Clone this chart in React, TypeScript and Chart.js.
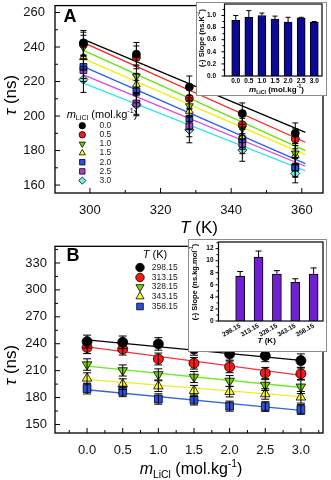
import React, { useEffect, useRef } from "react";
import { Chart, registerables } from "chart.js";
import { drawPoint } from "chart.js/helpers";

Chart.register(...registerables);

const FF = "'Liberation Sans', Arial, Helvetica, sans-serif";
const f = (size: number, opt = "") => `${opt} ${size}px ${FF}`.trim();

// ---------------- data ----------------
const tempsK = [298.15, 313.15, 328.15, 343.15, 358.15];
const tempLabels = ["298.15", "313.15", "328.15", "343.15", "358.15"];
const molalities = [0.0, 0.5, 1.0, 1.5, 2.0, 2.5, 3.0];
const molalityLabels = ["0.0", "0.5", "1.0", "1.5", "2.0", "2.5", "3.0"];

// tau (ns) at each temperature for m = 0.0 ... 3.0 mol/kg
const tau298 = [242.4, 241.6, 239.8, 234.0, 228.5, 226.6, 221.2];
const tau313 = [235.8, 234.0, 223.0, 218.2, 214.2, 207.3, 206.6];
const tau328 = [216.8, 210.2, 205.8, 202.9, 198.5, 194.0, 192.0];
const tau343 = [201.4, 194.9, 192.7, 187.6, 186.5, 184.0, 180.3];
const tau358 = [190.0, 186.8, 178.4, 177.3, 170.4, 170.0, 166.7];

const tauErr298 = [7.2, 7.0, 7.0, 6.8, 6.8, 6.6, 7.5];
const tauErr313 = [6.8, 6.6, 6.6, 6.5, 6.5, 6.3, 6.4];
const tauErr328 = [6.4, 6.2, 6.2, 6.2, 6.0, 6.0, 7.5];
const tauErr343 = [6.2, 6.0, 6.0, 6.0, 5.8, 5.8, 6.5];
const tauErr358 = [6.0, 5.8, 5.8, 5.6, 5.6, 5.4, 5.4];

// linear fits, panel A (vs T), one per molality
const fitA_T = [298.15, 361.0];
const fitA_start = [244.4, 242.5, 238.0, 233.3, 228.6, 223.8, 219.1];
const fitA_end = [190.5, 184.8, 180.0, 177.6, 172.4, 170.9, 168.2];

// linear fits, panel B (vs m), one per temperature
const fitB_m = [0.0, 3.0];
const fitB_start = [244.2, 236.5, 215.0, 200.3, 188.7];
const fitB_end = [221.5, 204.7, 191.2, 181.0, 165.7];

// inset slopes
const slopeVsM = [0.92, 0.97, 1.0, 0.94, 0.89, 0.96, 0.89];
const slopeVsMErr = [0.08, 0.11, 0.04, 0.05, 0.08, 0.01, 0.01];
const slopeVsT = [7.4, 10.6, 7.8, 6.4, 7.8];
const slopeVsTErr = [0.8, 1.0, 0.55, 0.6, 1.0];

// axis ticks
const axA_xMajor = [300, 320, 340, 360];
const axA_xMinor = [310, 330, 350];
const axA_yMajor = [160, 180, 200, 220, 240, 260];
const axA_yMinor = [170, 190, 210, 230, 250];
const axB_xMajor = [0, 0.5, 1.0, 1.5, 2.0, 2.5, 3.0];
const axB_xMinor = [-0.25, 0.25, 0.75, 1.25, 1.75, 2.25, 2.75, 3.25];
const axB_yMajor = [150, 180, 210, 240, 270, 300, 330];
const axB_yMinor = [165, 195, 225, 255, 285, 315, 345];
const inA_yMajor = [0, 0.2, 0.4, 0.6, 0.8, 1.0];
const inA_yMinor = [0.1, 0.3, 0.5, 0.7, 0.9, 1.1];
const inB_yMajor = [0, 2, 4, 6, 8, 10, 12];
const inB_yMinor = [1, 3, 5, 7, 9, 11, 13];

const tauByT = [tau298, tau313, tau328, tau343, tau358];
const errByT = [tauErr298, tauErr313, tauErr328, tauErr343, tauErr358];

// ---------------- styles ----------------
const styleA = [
  { fill: "#000000", line: "#000000", shape: "circle", rot: 0, r: 4 },
  { fill: "#ff1414", line: "#ff2020", shape: "circle", rot: 0, r: 4 },
  { fill: "#7ad400", line: "#66e600", shape: "triangle", rot: 180, r: 4.5 },
  { fill: "#ffff30", line: "#f2f000", shape: "triangle", rot: 0, r: 4.5 },
  { fill: "#2a50e8", line: "#2860f0", shape: "rect", rot: 0, r: 4.8 },
  { fill: "#b040d8", line: "#e040e0", shape: "rect", rot: 0, r: 4.8 },
  { fill: "#70f4e8", line: "#30e6f0", shape: "rectRot", rot: 0, r: 4.5 },
];
const styleB = [
  { fill: "#000000", line: "#000000", shape: "circle", rot: 0, r: 5 },
  { fill: "#ff1414", line: "#ff3040", shape: "circle", rot: 0, r: 5 },
  { fill: "#7ad400", line: "#66ee22", shape: "triangle", rot: 180, r: 5.5 },
  { fill: "#ffff30", line: "#eeee22", shape: "triangle", rot: 0, r: 5.5 },
  { fill: "#2a50e8", line: "#3366dd", shape: "rect", rot: 0, r: 5.5 },
];

// ---------------- helpers ----------------
type Seg = { t: string; f: string; dy?: number };
type TextItem = { x: number; y: number; segs: Seg[]; align?: "left" | "center" | "right"; rot?: number; color?: string };
type MarkItem = { x: number; y: number; shape: string; rot: number; r: number; fill: string };

function mSegs(size: number, bold = false): Seg[] {
  const b = bold ? "bold " : "";
  const small = Math.round(size * 0.65 * 10) / 10;
  return [
    { t: "m", f: f(size, b + "italic") },
    { t: "LiCl", f: f(small, b), dy: size * 0.3 },
    { t: " (mol.kg", f: f(size, b) },
    { t: "-1", f: f(small, b), dy: -size * 0.38 },
    { t: ")", f: f(size, b) },
  ];
}

function drawRich(ctx: CanvasRenderingContext2D, it: TextItem) {
  ctx.save();
  ctx.translate(it.x, it.y);
  if (it.rot) ctx.rotate(it.rot);
  ctx.textBaseline = "middle";
  ctx.textAlign = "left";
  let w = 0;
  for (const s of it.segs) {
    ctx.font = s.f;
    w += ctx.measureText(s.t).width;
  }
  let cx = it.align === "left" ? 0 : it.align === "right" ? -w : -w / 2;
  ctx.fillStyle = it.color || "#000";
  for (const s of it.segs) {
    ctx.font = s.f;
    ctx.fillText(s.t, cx, s.dy || 0);
    cx += ctx.measureText(s.t).width;
  }
  ctx.restore();
}

type Decor = {
  xMajor: number[]; xMinor: number[]; yMajor: number[]; yMinor: number[];
  majLen: number; minLen: number; inward: boolean; frameWidth: number;
  texts: TextItem[]; marks: MarkItem[];
};

function decorPlugin(d: Decor) {
  return {
    id: "decor",
    afterDraw(chart: any) {
      const { ctx, chartArea: a, scales } = chart;
      const xs = scales.x, ys = scales.y;
      ctx.save();
      ctx.strokeStyle = "#000";
      ctx.lineWidth = d.frameWidth;
      ctx.strokeRect(a.left, a.top, a.right - a.left, a.bottom - a.top);
      ctx.lineWidth = 1;
      const s = d.inward ? 1 : -1;
      ctx.beginPath();
      const xt = (v: number, len: number) => {
        const p = xs.getPixelForValue(v);
        ctx.moveTo(p, a.bottom);
        ctx.lineTo(p, a.bottom - s * len);
      };
      const yt = (v: number, len: number) => {
        const p = ys.getPixelForValue(v);
        ctx.moveTo(a.left, p);
        ctx.lineTo(a.left + s * len, p);
      };
      d.xMajor.forEach((v) => xt(v, d.majLen));
      d.xMinor.forEach((v) => xt(v, d.minLen));
      d.yMajor.forEach((v) => yt(v, d.majLen));
      d.yMinor.forEach((v) => yt(v, d.minLen));
      ctx.stroke();
      for (const m of d.marks) {
        ctx.fillStyle = m.fill;
        ctx.strokeStyle = "#000";
        ctx.lineWidth = 0.8;
        drawPoint(ctx, { pointStyle: m.shape as any, rotation: m.rot, radius: m.r, borderWidth: 0.8 } as any, m.x, m.y);
      }
      for (const t of d.texts) drawRich(ctx, t);
      ctx.restore();
    },
  };
}

const errorBarPlugin = {
  id: "errbars",
  afterDatasetsDraw(chart: any) {
    const ctx = chart.ctx;
    chart.data.datasets.forEach((ds: any, i: number) => {
      if (!ds.errs) return;
      const meta = chart.getDatasetMeta(i);
      const ys = chart.scales[meta.yAxisID];
      ctx.save();
      ctx.strokeStyle = ds.errColor || "#000";
      ctx.lineWidth = ds.errWidth || 1;
      meta.data.forEach((el: any, j: number) => {
        const v = ds.data[j].y;
        const e = ds.errs[j];
        const x = el.x;
        const top = ys.getPixelForValue(v + e);
        const bot = ds.errUpOnly ? ys.getPixelForValue(v) : ys.getPixelForValue(v - e);
        const cw = ds.errCap;
        ctx.beginPath();
        ctx.moveTo(x, top);
        ctx.lineTo(x, bot);
        ctx.moveTo(x - cw, top);
        ctx.lineTo(x + cw, top);
        if (!ds.errUpOnly) {
          ctx.moveTo(x - cw, bot);
          ctx.lineTo(x + cw, bot);
        }
        ctx.stroke();
      });
      ctx.restore();
    });
  },
};

const fixX = (h: number) => (s: any) => {
  s.height = h;
  s.paddingLeft = 0; s.paddingRight = 0; s.paddingTop = 0; s.paddingBottom = 0;
};
const fixY = (w: number) => (s: any) => {
  s.width = w;
  s.paddingLeft = 0; s.paddingRight = 0; s.paddingTop = 0; s.paddingBottom = 0;
};
const setTicks = (vals: number[]) => (s: any) => {
  s.ticks = vals.map((v) => ({ value: v }));
};

const noGrid = { display: false, drawTicks: false };
const noBorder = { display: false };
const baseOpts = {
  responsive: false,
  animation: false as const,
  plugins: { legend: { display: false }, tooltip: { enabled: false } },
};

// ---------------- chart configs ----------------
function makeMainA(): any {
  const points = molalities.map((_, i) => ({
    data: tempsK.map((T, j) => ({ x: T, y: tauByT[j][i] })),
    errs: tempsK.map((_, j) => errByT[j][i]),
    errCap: 3,
    showLine: false,
    pointStyle: styleA[i].shape,
    pointRotation: styleA[i].rot,
    pointRadius: styleA[i].r,
    pointBackgroundColor: styleA[i].fill,
    pointBorderColor: "#000",
    pointBorderWidth: 0.8,
  }));
  const lines = molalities.map((_, i) => ({
    data: [
      { x: fitA_T[0], y: fitA_start[i] },
      { x: fitA_T[1], y: fitA_end[i] },
    ],
    showLine: true,
    pointRadius: 0,
    borderColor: styleA[i].line,
    borderWidth: 1.3,
  }));
  const legendRowsY = [125.7, 134.8, 143.9, 153, 162.2, 171.4, 180.6];
  return {
    type: "scatter",
    data: { datasets: [...points, ...lines] },
    options: {
      ...baseOpts,
      layout: { padding: { left: 0, top: 3, right: 8, bottom: 0 } },
      scales: {
        x: {
          type: "linear", min: 290.1, max: 366,
          grid: noGrid, border: noBorder,
          afterBuildTicks: setTicks(axA_xMajor),
          afterFit: fixX(47),
          ticks: { font: { size: 13, family: FF }, color: "#111", padding: 10, maxRotation: 0, autoSkip: false },
        },
        y: {
          type: "linear", min: 155.4, max: 264,
          grid: noGrid, border: noBorder,
          afterBuildTicks: setTicks(axA_yMajor),
          afterFit: fixY(55),
          ticks: { font: { size: 13, family: FF }, color: "#111", padding: 10, autoSkip: false },
        },
      },
    },
    plugins: [
      errorBarPlugin,
      decorPlugin({
        xMajor: axA_xMajor, xMinor: axA_xMinor, yMajor: axA_yMajor, yMinor: axA_yMinor,
        majLen: 5, minLen: 3, inward: true, frameWidth: 1.3,
        texts: [
          { x: 70, y: 17, segs: [{ t: "A", f: f(18, "bold") }] },
          { x: 11, y: 95, rot: -Math.PI / 2, segs: [{ t: "τ", f: f(17, "italic") }, { t: " (ns)", f: f(17) }] },
          { x: 199, y: 228, segs: [{ t: "T", f: f(17, "italic") }, { t: " (K)", f: f(17) }] },
          { x: 66.7, y: 115, align: "left", segs: mSegs(11) },
          ...molalityLabels.map((l, i) => ({
            x: 99.5, y: legendRowsY[i], align: "left" as const, color: "#222",
            segs: [{ t: l, f: f(8.5) }],
          })),
        ],
        marks: styleA.map((s, i) => ({ x: 82.3, y: legendRowsY[i], shape: s.shape, rot: s.rot, r: s.r * 0.8, fill: s.fill })),
      }),
    ],
  };
}

function makeMainB(): any {
  const points = tempsK.map((_, j) => ({
    data: molalities.map((m, i) => ({ x: m, y: tauByT[j][i] })),
    errs: errByT[j],
    errCap: 4,
    showLine: false,
    pointStyle: styleB[j].shape,
    pointRotation: styleB[j].rot,
    pointRadius: styleB[j].r,
    pointBackgroundColor: styleB[j].fill,
    pointBorderColor: "#000",
    pointBorderWidth: 0.8,
  }));
  const lines = tempsK.map((_, j) => ({
    data: [
      { x: fitB_m[0], y: fitB_start[j] },
      { x: fitB_m[1], y: fitB_end[j] },
    ],
    showLine: true,
    pointRadius: 0,
    borderColor: styleB[j].line,
    borderWidth: 1.3,
  }));
  const legendRowsY = [27.5, 37.5, 47, 56.5, 66.5];
  return {
    type: "scatter",
    data: { datasets: [...points, ...lines] },
    options: {
      ...baseOpts,
      layout: { padding: { left: 0, top: 3, right: 8, bottom: 0 } },
      scales: {
        x: {
          type: "linear", min: -0.45, max: 3.31,
          grid: noGrid, border: noBorder,
          afterBuildTicks: setTicks(axB_xMajor),
          afterFit: fixX(47),
          ticks: {
            font: { size: 13, family: FF }, color: "#111", padding: 10, maxRotation: 0, autoSkip: false,
            callback: (v: any) => Number(v).toFixed(1),
          },
        },
        y: {
          type: "linear", min: 140.5, max: 348.6,
          grid: noGrid, border: noBorder,
          afterBuildTicks: setTicks(axB_yMajor),
          afterFit: fixY(55),
          ticks: { font: { size: 13, family: FF }, color: "#111", padding: 8, autoSkip: false },
        },
      },
    },
    plugins: [
      errorBarPlugin,
      decorPlugin({
        xMajor: axB_xMajor, xMinor: axB_xMinor, yMajor: axB_yMajor, yMinor: axB_yMinor,
        majLen: 5, minLen: 3, inward: true, frameWidth: 1.3,
        texts: [
          { x: 73, y: 16, segs: [{ t: "B", f: f(18, "bold") }] },
          { x: 11, y: 125, rot: -Math.PI / 2, segs: [{ t: "τ", f: f(17, "italic") }, { t: " (ns)", f: f(17) }] },
          { x: 191, y: 230, segs: mSegs(16) },
          { x: 155, y: 15, segs: [{ t: "T", f: f(11, "italic") }, { t: " (K)", f: f(11) }] },
          ...tempLabels.map((l, i) => ({
            x: 151.7, y: legendRowsY[i], align: "left" as const, color: "#222",
            segs: [{ t: l, f: f(8.5) }],
          })),
        ],
        marks: styleB.map((s, i) => ({ x: 140, y: legendRowsY[i], shape: s.shape, rot: s.rot, r: s.r * 0.85, fill: s.fill })),
      }),
    ],
  };
}

function makeInsetA(): any {
  return {
    type: "bar",
    data: {
      datasets: [
        {
          data: slopeVsM.map((v, i) => ({ x: i, y: v })),
          backgroundColor: "#0a0a96",
          borderColor: "#000",
          borderWidth: 1,
          barThickness: 8,
          errs: slopeVsMErr,
          errUpOnly: true,
          errCap: 2.5,
        },
      ],
    },
    options: {
      ...baseOpts,
      layout: { padding: { left: 0, top: 1, right: 4, bottom: 0 } },
      scales: {
        x: {
          type: "linear", offset: false, min: -0.857, max: 6.59,
          grid: noGrid, border: noBorder,
          afterBuildTicks: setTicks(molalities.map((_, i) => i)),
          afterFit: fixX(19),
          ticks: {
            font: { size: 6.5, weight: "bold", family: FF }, color: "#000", padding: 1, maxRotation: 0, autoSkip: false,
            callback: (v: any) => molalityLabels[v],
          },
        },
        y: {
          type: "linear", min: 0, max: 1.19,
          grid: noGrid, border: noBorder,
          afterBuildTicks: setTicks(inA_yMajor),
          afterFit: fixY(27.5),
          ticks: {
            font: { size: 6.5, weight: "bold", family: FF }, color: "#000", padding: 8.5, autoSkip: false,
            callback: (v: any) => Number(v).toFixed(1),
          },
        },
      },
    },
    plugins: [
      errorBarPlugin,
      decorPlugin({
        xMajor: [], xMinor: [], yMajor: inA_yMajor, yMinor: inA_yMinor,
        majLen: 3, minLen: 2, inward: false, frameWidth: 1.2,
        texts: [
          {
            x: 5, y: 35, rot: -Math.PI / 2,
            segs: [
              { t: "(-) Slope (ns.K", f: f(7.5, "bold") },
              { t: "-1", f: f(5, "bold"), dy: -3 },
              { t: ")", f: f(7.5, "bold") },
            ],
          },
          { x: 79.5, y: 87, segs: mSegs(8, true) },
        ],
        marks: [],
      }),
    ],
  };
}

function makeInsetB(): any {
  return {
    type: "bar",
    data: {
      datasets: [
        {
          data: slopeVsT.map((v, i) => ({ x: i, y: v })),
          backgroundColor: "#7020d0",
          borderColor: "#000",
          borderWidth: 1,
          barThickness: 9,
          errs: slopeVsTErr,
          errUpOnly: true,
          errCap: 3,
        },
      ],
    },
    options: {
      ...baseOpts,
      layout: { padding: { left: 0, top: 2, right: 3, bottom: 0 } },
      scales: {
        x: {
          type: "linear", offset: false, min: -1.18, max: 4.51,
          grid: noGrid, border: noBorder,
          afterBuildTicks: setTicks(tempsK.map((_, i) => i)),
          afterFit: fixX(30),
          ticks: {
            font: { size: 6.5, weight: "bold", family: FF }, color: "#000", padding: 1,
            minRotation: 30, maxRotation: 30, autoSkip: false,
            callback: (v: any) => tempLabels[v],
          },
        },
        y: {
          type: "linear", min: 0, max: 13.1,
          grid: noGrid, border: noBorder,
          afterBuildTicks: setTicks(inB_yMajor),
          afterFit: fixY(29.5),
          ticks: { font: { size: 6.5, weight: "bold", family: FF }, color: "#000", padding: 5, autoSkip: false },
        },
      },
    },
    plugins: [
      errorBarPlugin,
      decorPlugin({
        xMajor: [], xMinor: [], yMajor: inB_yMajor, yMinor: inB_yMinor,
        majLen: 3, minLen: 2, inward: false, frameWidth: 1.2,
        texts: [
          {
            x: 6, y: 42, rot: -Math.PI / 2,
            segs: [
              { t: "(-) Slope (ns.kg.mol", f: f(7.5, "bold") },
              { t: "-1", f: f(5, "bold"), dy: -3 },
              { t: ")", f: f(7.5, "bold") },
            ],
          },
          { x: 77.7, y: 101, segs: [{ t: "T", f: f(8, "bold italic") }, { t: " (K)", f: f(8, "bold") }] },
        ],
        marks: [],
      }),
    ],
  };
}

// ---------------- components ----------------
function ChartCanvas(props: { make: () => any; width: number; height: number; left: number; top: number }) {
  const ref = useRef<HTMLCanvasElement>(null);
  useEffect(() => {
    const chart = new Chart(ref.current as HTMLCanvasElement, props.make());
    return () => chart.destroy();
  }, []);
  return (
    <canvas
      ref={ref}
      width={props.width}
      height={props.height}
      style={{ position: "absolute", left: props.left, top: props.top, width: props.width, height: props.height, display: "block" }}
    />
  );
}

export default function App() {
  return (
    <div style={{ position: "absolute", left: 0, top: 0, width: 331, height: 480, background: "#fff", overflow: "hidden" }}>
      <ChartCanvas make={makeMainA} width={331} height={240} left={0} top={0} />
      <ChartCanvas make={makeMainB} width={331} height={240} left={0} top={240} />
      <div
        style={{
          position: "absolute", left: 196, top: 2, width: 131, height: 94,
          border: "1px solid #8c8c8c", boxSizing: "border-box", background: "#fff",
        }}
      >
        <ChartCanvas make={makeInsetA} width={129} height={92} left={0} top={0} />
      </div>
      <div
        style={{
          position: "absolute", left: 188, top: 239, width: 139, height: 113,
          border: "1px solid #8c8c8c", boxSizing: "border-box", background: "#fff",
        }}
      >
        <ChartCanvas make={makeInsetB} width={137} height={111} left={0} top={0} />
      </div>
    </div>
  );
}
